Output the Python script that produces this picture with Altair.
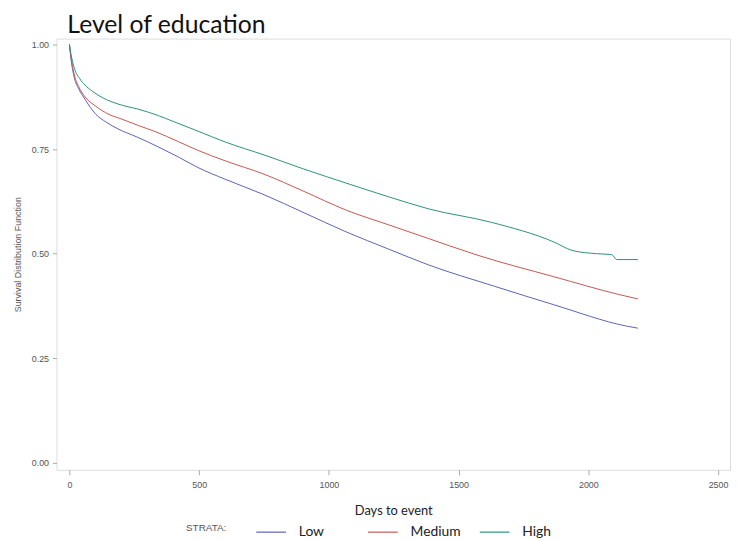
import altair as alt
import pandas as pd

# (days, survival probability)
low_days = [0, 5, 19, 35, 57, 80, 102, 140, 191, 260, 343, 420, 495, 600, 750, 900, 1067, 1230, 1385, 1639, 1867, 2147, 2191]
low_surv = [1.0, 0.970, 0.920, 0.895, 0.872, 0.850, 0.833, 0.815, 0.797, 0.779, 0.755, 0.731, 0.706, 0.678, 0.641, 0.599, 0.552, 0.511, 0.473, 0.422, 0.378, 0.327, 0.322]

med_days = [0, 5, 19, 35, 64, 100, 152, 200, 267, 330, 419, 495, 600, 750, 900, 1067, 1230, 1385, 1575, 1867, 2121, 2191]
med_surv = [1.0, 0.975, 0.927, 0.900, 0.872, 0.853, 0.833, 0.822, 0.806, 0.792, 0.768, 0.747, 0.722, 0.690, 0.650, 0.604, 0.569, 0.536, 0.496, 0.445, 0.402, 0.392]

high_days = [0, 5, 19, 40, 60, 89, 130, 191, 267, 343, 400, 495, 600, 750, 900, 1080, 1230, 1385, 1626, 1867, 1937, 2032, 2090, 2109, 2191]
high_surv = [1.0, 0.980, 0.943, 0.918, 0.903, 0.888, 0.872, 0.857, 0.845, 0.830, 0.816, 0.793, 0.767, 0.736, 0.703, 0.666, 0.636, 0.607, 0.575, 0.528, 0.508, 0.500, 0.498, 0.486, 0.486]

strata = ["Low", "Medium", "High"]
colors = ["#5a63b3", "#c4574f", "#2b917c"]

rows = []
for name, days, surv in [("Low", low_days, low_surv), ("Medium", med_days, med_surv), ("High", high_days, high_surv)]:
    for i, (d, s) in enumerate(zip(days, surv)):
        rows.append({"strata": name, "days": d, "surv": s, "order": i})
df = pd.DataFrame(rows)

chart = alt.Chart(df).mark_line(strokeWidth=1.0, interpolate="monotone").encode(
    x=alt.X("days:Q",
            scale=alt.Scale(domain=[-50, 2546], nice=False, zero=False),
            axis=alt.Axis(values=[0, 500, 1000, 1500, 2000, 2500], format="d", title="Days to event",
                          titleFont="Lato", titleFontSize=13, titleFontWeight="normal",
                          titleColor="#222222", titlePadding=15,
                          labelFont="Liberation Sans", labelFontSize=9, labelColor="#555555",
                          tickColor="#aaaaaa", tickSize=5, labelPadding=6, grid=False, domain=False)),
    y=alt.Y("surv:Q",
            scale=alt.Scale(domain=[-0.0165, 1.014], nice=False, zero=False),
            axis=alt.Axis(values=[0, 0.25, 0.5, 0.75, 1.0], format=".2f",
                          title="Survival Distribution Function",
                          titleFont="Liberation Sans", titleFontSize=9, titleFontWeight="normal",
                          titleColor="#555555", titlePadding=9,
                          labelFont="Liberation Sans", labelFontSize=9, labelColor="#555555",
                          tickColor="#aaaaaa", tickSize=4, labelPadding=4, grid=False, domain=False)),
    color=alt.Color("strata:N",
                    scale=alt.Scale(domain=strata, range=colors),
                    legend=alt.Legend(title="STRATA:", orient="none", legendX=131, legendY=483,
                                      direction="horizontal", titleOrient="left", padding=0,
                                      titleFont="Liberation Sans", titleFontSize=10,
                                      titleFontWeight="normal", titleColor="#555555",
                                      titlePadding=29, titleBaseline="middle", titleAnchor="middle",
                                      labelFont="Lato", labelFontSize=14, labelColor="#222222",
                                      symbolType="stroke", symbolSize=900, symbolStrokeWidth=1.2,
                                      labelOffset=12, columnPadding=16, gridAlign="all")),
    order="order:Q",
).properties(
    width=681,
    height=436,
    title=alt.TitleParams("Level of education", font="Lato", fontSize=25, fontWeight="normal",
                          color="#111111", anchor="start", frame="group", dx=11, offset=1),
    padding={"left": 49, "top": 28, "right": 1, "bottom": 68},
    autosize=alt.AutoSizeParams(type="none"),
).configure_view(
    stroke="#c8c8c8", strokeWidth=1
).configure(background="white")

chart.save("out.html", embed_options={"renderer": "svg", "actions": False})
